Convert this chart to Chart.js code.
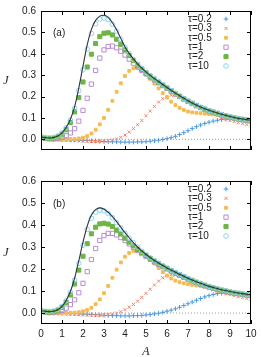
<!DOCTYPE html>
<html lang="en">
<head>
<meta charset="UTF-8">
<script src="https://cdn.jsdelivr.net/npm/chart.js"></script>
<title>J vs A</title>
<style>
  body { margin: 0; background: #fff; }
  #wrap { position: relative; width: 261px; height: 357px; }
  canvas { position: absolute; left: 0; }
  #chartA { top: 0; }
  #chartB { top: 170px; }
</style>
</head>
<body>
<div id="wrap">
  <canvas id="chartA" width="261" height="170"></canvas>
  <canvas id="chartB" width="261" height="187"></canvas>
</div>
<script>
// amplitude grid
var A = [0,0.2,0.4,0.6,0.8,1,1.2,1.4,1.6,1.8,2,2.2,2.4,2.6,2.8,3,3.2,3.4,3.6,3.8,4,4.2,4.4,4.6,4.8,5,
         5.2,5.4,5.6,5.8,6,6.2,6.4,6.6,6.8,7,7.2,7.4,7.6,7.8,8,8.2,8.4,8.6,8.8,9,9.2,9.4,9.6,9.8,10];

var tauLabels = ['τ=0.2', 'τ=0.3', 'τ=0.5', 'τ=1', 'τ=2', 'τ=10'];
var xTicks = [0,1,2,3,4,5,6,7,8,9,10];
var yTicks = [0,0.1,0.2,0.3,0.4,0.5,0.6];
var zeroX = [0, 10];
var zeroY = [0, 0];

// panel (a)
var curveA = [0.010,0.008,0.006,0.008,0.015,0.030,0.056,0.094,0.152,0.240, 0.342,0.442,0.514,0.556,0.576,0.580,0.570,0.545,0.512,0.472,
              0.432,0.402,0.376,0.353,0.333,0.315,0.299,0.284,0.270,0.256, 0.242,0.229,0.216,0.204,0.192,0.180,0.170,0.160,0.151,0.143,
              0.136,0.129,0.123,0.117,0.112,0.107,0.102,0.098,0.095,0.092, 0.089];
var tau02A = [0.005,0.002,0.000,-0.001,-0.001,-0.002,-0.002,-0.003,-0.003,-0.004, -0.005,-0.006,-0.007,-0.008,-0.009,-0.010,-0.011,-0.012,-0.012,-0.013,
              -0.013,-0.013,-0.013,-0.012,-0.012,-0.011,-0.009,-0.007,-0.004,-0.001, 0.003,0.008,0.014,0.022,0.031,0.040,0.050,0.059,0.067,0.074,
              0.080,0.085,0.089,0.092,0.094,0.094,0.093,0.091,0.089,0.086, 0.083];
var tau03A = [0.005,0.003,0.001,-0.001,-0.002,-0.003,-0.004,-0.005,-0.006,-0.007, -0.008,-0.009,-0.010,-0.010,-0.010,-0.009,-0.007,-0.003,0.002,0.009,
              0.020,0.034,0.050,0.068,0.088,0.110,0.132,0.154,0.174,0.190, 0.201,0.206,0.204,0.197,0.187,0.176,0.165,0.154,0.144,0.135,
              0.126,0.118,0.110,0.102,0.095,0.089,0.083,0.078,0.073,0.069, 0.065];
var tau05A = [0.006,0.003,0.001,0.000,0.000,0.000,0.000,0.001,0.002,0.004, 0.008,0.015,0.027,0.045,0.070,0.100,0.138,0.180,0.222,0.262,
              0.296,0.320,0.332,0.333,0.322,0.303,0.282,0.260,0.238,0.216, 0.195,0.176,0.160,0.147,0.137,0.130,0.126,0.124,0.122,0.120,
              0.118,0.116,0.114,0.111,0.108,0.104,0.100,0.096,0.092,0.089, 0.086];
var tau1A = [0.008,0.004,0.002,0.002,0.004,0.009,0.017,0.030,0.050,0.085, 0.135,0.192,0.258,0.322,0.380,0.418,0.434,0.436,0.428,0.412,
             0.394,0.375,0.356,0.339,0.322,0.306,0.291,0.277,0.264,0.251, 0.238,0.225,0.212,0.200,0.188,0.177,0.167,0.157,0.148,0.140,
             0.133,0.126,0.120,0.114,0.109,0.104,0.099,0.095,0.092,0.089, 0.086];
var tau2A = [0.010,0.006,0.004,0.006,0.012,0.024,0.045,0.078,0.128,0.195, 0.268,0.338,0.398,0.448,0.480,0.496,0.498,0.488,0.468,0.444,
             0.418,0.392,0.368,0.347,0.328,0.311,0.295,0.281,0.267,0.253, 0.240,0.227,0.214,0.202,0.190,0.178,0.168,0.158,0.149,0.141,
             0.134,0.127,0.121,0.115,0.110,0.105,0.100,0.096,0.093,0.090, 0.087];
var tau10A = [0.010,0.008,0.007,0.009,0.016,0.030,0.054,0.090,0.145,0.228, 0.325,0.422,0.495,0.540,0.562,0.567,0.560,0.538,0.506,0.468,
              0.430,0.400,0.374,0.352,0.332,0.314,0.298,0.283,0.269,0.255, 0.241,0.228,0.215,0.203,0.191,0.179,0.169,0.159,0.150,0.142,
              0.135,0.128,0.122,0.116,0.111,0.106,0.101,0.097,0.094,0.091, 0.088];

// panel (b)
var curveB = [0.010,0.008,0.006,0.008,0.015,0.030,0.058,0.098,0.158,0.238, 0.322,0.395,0.445,0.470,0.478,0.472,0.458,0.438,0.415,0.390,
              0.365,0.342,0.320,0.300,0.282,0.266,0.252,0.239,0.227,0.216, 0.205,0.195,0.185,0.176,0.167,0.158,0.150,0.142,0.135,0.128,
              0.122,0.116,0.111,0.106,0.102,0.098,0.094,0.091,0.088,0.085, 0.083];
var tau02B = [0.005,0.002,0.000,-0.001,-0.001,-0.002,-0.002,-0.003,-0.003,-0.004, -0.005,-0.006,-0.007,-0.008,-0.009,-0.010,-0.011,-0.012,-0.012,-0.013,
              -0.013,-0.013,-0.012,-0.012,-0.011,-0.009,-0.007,-0.004,-0.001,0.003, 0.008,0.013,0.019,0.026,0.034,0.042,0.050,0.058,0.066,0.073,
              0.079,0.084,0.088,0.090,0.091,0.091,0.090,0.088,0.086,0.083, 0.080];
var tau03B = [0.005,0.003,0.001,-0.001,-0.002,-0.003,-0.004,-0.005,-0.006,-0.007, -0.008,-0.009,-0.010,-0.010,-0.010,-0.009,-0.007,-0.004,0.000,0.006,
              0.015,0.026,0.039,0.054,0.071,0.089,0.108,0.127,0.145,0.160, 0.170,0.174,0.172,0.166,0.158,0.150,0.142,0.134,0.126,0.119,
              0.112,0.105,0.099,0.093,0.088,0.083,0.078,0.074,0.070,0.066, 0.063];
var tau05B = [0.006,0.003,0.001,0.000,0.000,0.000,0.000,0.001,0.002,0.004, 0.008,0.014,0.024,0.040,0.062,0.090,0.123,0.160,0.197,0.230,
              0.256,0.273,0.282,0.283,0.276,0.262,0.244,0.224,0.204,0.186, 0.170,0.157,0.147,0.140,0.135,0.131,0.128,0.125,0.122,0.119,
              0.116,0.112,0.108,0.104,0.100,0.096,0.092,0.089,0.086,0.083, 0.080];
var tau1B = [0.008,0.004,0.002,0.003,0.006,0.012,0.022,0.038,0.060,0.092, 0.135,0.188,0.243,0.293,0.330,0.352,0.362,0.362,0.355,0.343,
             0.329,0.314,0.299,0.284,0.270,0.257,0.244,0.232,0.221,0.210, 0.200,0.190,0.180,0.171,0.162,0.154,0.146,0.138,0.131,0.124,
             0.118,0.112,0.107,0.102,0.098,0.094,0.090,0.087,0.084,0.081, 0.079];
var tau2B = [0.010,0.006,0.004,0.006,0.013,0.026,0.048,0.082,0.132,0.195, 0.258,0.315,0.360,0.390,0.405,0.408,0.404,0.393,0.377,0.359,
             0.340,0.322,0.305,0.289,0.275,0.261,0.248,0.236,0.224,0.213, 0.203,0.193,0.183,0.174,0.165,0.156,0.148,0.140,0.133,0.126,
             0.120,0.114,0.109,0.104,0.100,0.096,0.092,0.089,0.086,0.083, 0.081];
var tau10B = [0.010,0.008,0.007,0.009,0.016,0.030,0.056,0.094,0.150,0.226, 0.308,0.380,0.430,0.458,0.468,0.465,0.452,0.433,0.411,0.387,
              0.363,0.340,0.319,0.299,0.281,0.265,0.251,0.238,0.226,0.215, 0.204,0.194,0.184,0.175,0.166,0.157,0.149,0.141,0.134,0.127,
              0.121,0.115,0.110,0.105,0.101,0.097,0.093,0.090,0.087,0.084, 0.082];

// marker look for each tau
var colors = ['#4a97dc', '#f0866a', '#f5bb52', '#b98bd2', '#6db544', '#8dd3f2'];
var marks = [
  { style: 'cross', r: 2.3, fill: false },
  { style: 'crossRot', r: 2.2, fill: false },
  { style: 'rect', r: 2.0, fill: true },
  { style: 'rect', r: 3.0, fill: false },
  { style: 'rect', r: 2.9, fill: true },
  { style: 'circle', r: 2.3, fill: false }
];
var tickFont = { family: 'Liberation Sans', size: 10 };

function pts(xs, ys) {
  return xs.map(function (x, i) { return { x: x, y: ys[i] }; });
}

var decor = {
  id: 'decor',
  afterDatasetsDraw: function (chart, args, opts) {
    var ctx = chart.ctx, a = chart.chartArea;
    var xs = chart.scales.x, ys = chart.scales.y;
    ctx.save();
    ctx.strokeStyle = '#000';
    ctx.lineWidth = 1;
    ctx.strokeRect(Math.round(a.left) + 0.5, Math.round(a.top) + 0.5,
                   Math.round(a.right - a.left) - 1, Math.round(a.bottom - a.top) - 1);
    ctx.beginPath();
    xTicks.forEach(function (v) {
      var px = Math.round(xs.getPixelForValue(v)) + 0.5;
      ctx.moveTo(px, a.bottom); ctx.lineTo(px, a.bottom - 4);
      ctx.moveTo(px, a.top); ctx.lineTo(px, a.top + 4);
    });
    yTicks.forEach(function (v) {
      var py = Math.round(ys.getPixelForValue(v)) + 0.5;
      ctx.moveTo(a.left, py); ctx.lineTo(a.left + 4, py);
      ctx.moveTo(a.right, py); ctx.lineTo(a.right - 4, py);
    });
    ctx.stroke();

    // panel tag
    ctx.fillStyle = '#222';
    ctx.font = '10px "Liberation Sans"';
    ctx.textAlign = 'left';
    ctx.textBaseline = 'middle';
    ctx.fillText(opts.tag, a.left + 12, ys.getPixelForValue(0.495));

    // y label, upright like gnuplot
    ctx.font = 'italic 12px "Liberation Serif"';
    ctx.textAlign = 'center';
    ctx.fillText('J', 6, (a.top + a.bottom) / 2);

    // legend
    ctx.font = '10px "Liberation Sans"';
    ctx.textAlign = 'left';
    tauLabels.forEach(function (lab, i) {
      var y = a.top + 8 + i * 9.4;
      ctx.fillStyle = '#222';
      ctx.fillText(lab, a.right - 63, y);
      ctx.strokeStyle = colors[i];
      ctx.fillStyle = marks[i].fill ? colors[i] : 'rgba(0,0,0,0)';
      ctx.lineWidth = 1;
      Chart.helpers.drawPoint(ctx, { pointStyle: marks[i].style, radius: marks[i].r, rotation: 0, borderWidth: 1 },
                              a.right - 25, y);
    });
    ctx.restore();
  }
};

function makePanel(id, series, curve, tag, bottom) {
  var sets = [];
  sets.push({
    data: pts(A, curve), showLine: true, borderColor: '#2c3540', borderWidth: 1.1,
    pointRadius: 0, cubicInterpolationMode: 'monotone', order: 0
  });
  for (var i = series.length - 1; i >= 0; i--) {
    sets.push({
      data: pts(A, series[i]), showLine: false,
      pointStyle: marks[i].style, pointRadius: marks[i].r, borderWidth: 1,
      borderColor: colors[i], backgroundColor: marks[i].fill ? colors[i] : 'rgba(0,0,0,0)',
      order: series.length - i
    });
  }
  sets.push({
    data: pts(zeroX, zeroY), showLine: true, borderColor: '#9a9a9a', borderWidth: 1,
    borderDash: [1, 2], pointRadius: 0, order: 20
  });

  return new Chart(document.getElementById(id), {
    type: 'scatter',
    data: { datasets: sets },
    plugins: [decor],
    options: {
      responsive: false,
      animation: false,
      layout: { padding: bottom ? { left: 0, right: 10, top: 7, bottom: 0 } : { left: 0, right: 10, top: 6, bottom: 20 } },
      plugins: { legend: { display: false }, tooltip: { enabled: false }, decor: { tag: tag } },
      scales: {
        x: {
          type: 'linear', min: 0, max: 10,
          grid: { display: false, drawTicks: false },
          border: { display: false },
          ticks: { display: bottom, stepSize: 1, padding: 4, font: tickFont, color: '#222' },
          title: { display: bottom, text: 'A', padding: { top: 0, bottom: -2 }, color: '#222',
                   font: { family: 'Liberation Serif', style: 'italic', size: 12 } },
          afterFit: function (s) { s.height = bottom ? 33 : 0; }
        },
        y: {
          min: -0.05, max: 0.6,
          grid: { display: false, drawTicks: false },
          border: { display: false },
          ticks: { padding: 5, font: tickFont, color: '#222',
                   callback: function (v) { return v.toFixed(1); } },
          afterBuildTicks: function (s) { s.ticks = yTicks.map(function (v) { return { value: v }; }); },
          afterFit: function (s) { s.width = 41; }
        }
      }
    }
  });
}

makePanel('chartA', [tau02A, tau03A, tau05A, tau1A, tau2A, tau10A], curveA, '(a)', false);
makePanel('chartB', [tau02B, tau03B, tau05B, tau1B, tau2B, tau10B], curveB, '(b)', true);
</script>
</body>
</html>
